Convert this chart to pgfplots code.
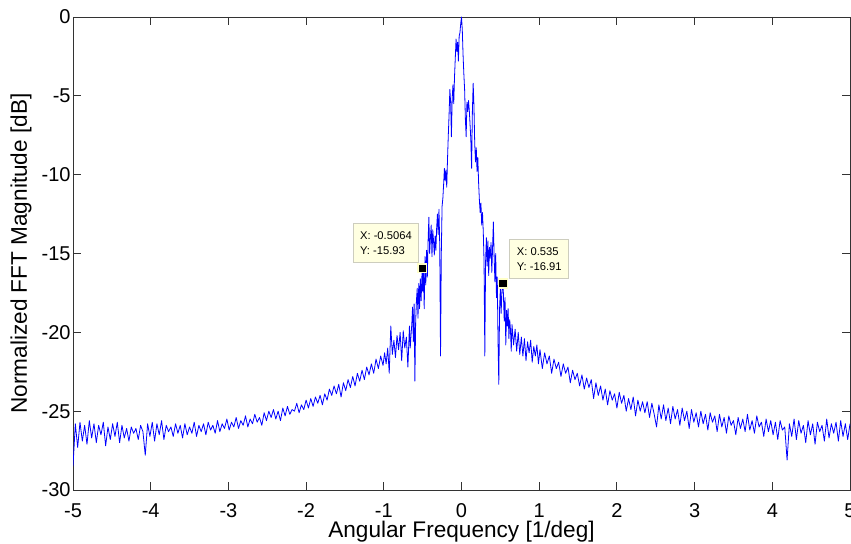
\documentclass[border=0pt]{standalone}
\usepackage{pgfplots}
\pgfplotsset{compat=1.18}
\usepackage{fontspec}
\setmainfont{Liberation Sans}
\definecolor{mblue}{RGB}{0,0,255}
\definecolor{tipfill}{RGB}{255,255,225}
\definecolor{tipedge}{RGB}{205,205,190}
\definecolor{tipmark}{RGB}{255,255,200}
\begin{document}
\begin{tikzpicture}
\begin{axis}[
  scale only axis, width=388.5pt, height=236.5pt,
  xmin=-5, xmax=5, ymin=-30, ymax=0,
  xtick={-5,-4,-3,-2,-1,0,1,2,3,4,5},
  ytick={-30,-25,-20,-15,-10,-5,0},
  tick align=inside, major tick length=4pt,
  axis line style={black!80, line width=0.45pt},
  tick style={black!80, line width=0.45pt},
  /pgf/number format/assume math mode=true,
  ticklabel style={font=\fontsize{10}{11}\selectfont, inner sep=1pt},
  xticklabel style={yshift=-5.5pt},
  label style={font=\fontsize{11.3}{13}\selectfont},
  xlabel={Angular Frequency [1/deg]},
  ylabel={Normalized FFT Magnitude [dB]},
  xlabel style={at={(axis description cs:0.5,-0.0994)}, anchor=base},
  ylabel style={at={(axis description cs:-0.0669,0.5)}, anchor=center},
]
\addplot[mblue, line width=0.4pt, line join=round] coordinates {
(-5.00,-28.5) (-4.97,-25.8) (-4.94,-27.3) (-4.91,-25.7) (-4.88,-26.9) (-4.85,-25.9)
(-4.82,-27.1) (-4.79,-25.6) (-4.76,-26.7) (-4.73,-25.8) (-4.70,-27.0) (-4.67,-25.9)
(-4.64,-26.5) (-4.61,-25.7) (-4.58,-27.2) (-4.55,-26.0) (-4.52,-26.8) (-4.49,-25.8)
(-4.46,-26.6) (-4.43,-25.7) (-4.40,-27.0) (-4.37,-25.9) (-4.34,-26.7) (-4.31,-26.1)
(-4.28,-26.9) (-4.25,-26.0) (-4.22,-26.4) (-4.19,-26.1) (-4.16,-26.8) (-4.13,-25.9)
(-4.10,-26.3) (-4.07,-27.8) (-4.04,-25.8) (-4.01,-26.6) (-3.98,-25.7) (-3.95,-26.9)
(-3.92,-25.8) (-3.89,-26.5) (-3.86,-25.6) (-3.83,-26.8) (-3.80,-25.9) (-3.77,-26.3)
(-3.74,-26.0) (-3.71,-26.6) (-3.68,-25.8) (-3.65,-26.4) (-3.62,-25.9) (-3.59,-26.7)
(-3.56,-25.8) (-3.53,-26.5) (-3.50,-26.0) (-3.47,-26.4) (-3.44,-25.7) (-3.41,-26.6)
(-3.38,-25.9) (-3.35,-26.3) (-3.32,-25.8) (-3.29,-26.5) (-3.26,-25.7) (-3.23,-26.2)
(-3.20,-25.9) (-3.17,-26.4) (-3.14,-25.6) (-3.11,-26.3) (-3.08,-25.8) (-3.05,-26.1)
(-3.02,-25.5) (-2.99,-26.2) (-2.96,-25.7) (-2.93,-26.0) (-2.90,-25.4) (-2.87,-26.1)
(-2.84,-25.6) (-2.81,-25.9) (-2.78,-25.3) (-2.75,-26.0) (-2.72,-25.5) (-2.69,-25.8)
(-2.66,-25.2) (-2.63,-25.7) (-2.60,-25.4) (-2.57,-25.9) (-2.54,-25.1) (-2.51,-25.6)
(-2.48,-25.0) (-2.45,-25.4) (-2.42,-24.9) (-2.39,-25.5) (-2.36,-25.0) (-2.33,-25.6)
(-2.30,-24.8) (-2.27,-25.3) (-2.24,-24.7) (-2.21,-25.2) (-2.18,-24.9) (-2.15,-25.0)
(-2.12,-24.5) (-2.09,-25.1) (-2.06,-24.6) (-2.03,-24.9) (-2.00,-24.3) (-1.97,-24.8)
(-1.94,-24.2) (-1.91,-24.7) (-1.88,-24.1) (-1.85,-24.5) (-1.82,-24.0) (-1.79,-24.6)
(-1.76,-23.9) (-1.73,-24.3) (-1.70,-23.6) (-1.67,-24.0) (-1.64,-23.4) (-1.61,-23.9)
(-1.58,-23.3) (-1.55,-24.1) (-1.52,-23.2) (-1.49,-23.7) (-1.46,-23.0) (-1.43,-23.5)
(-1.40,-22.8) (-1.37,-23.4) (-1.34,-22.6) (-1.31,-23.1) (-1.28,-22.4) (-1.25,-23.0)
(-1.22,-22.2) (-1.19,-22.7) (-1.16,-22.0) (-1.13,-22.6) (-1.10,-21.7) (-1.07,-22.3)
(-1.04,-21.5) (-1.01,-22.1) (-0.99,-21.3) (-0.97,-22.0) (-0.95,-21.0) (-0.93,-22.6)
(-0.91,-19.6) (-0.89,-21.4) (-0.87,-20.5) (-0.85,-21.6) (-0.83,-20.2) (-0.81,-21.1)
(-0.79,-20.0) (-0.77,-21.8) (-0.75,-19.9) (-0.73,-21.0) (-0.71,-20.3) (-0.69,-22.2)
(-0.67,-19.6) (-0.66,-21.0) (-0.65,-20.2) (-0.64,-19.5) (-0.63,-18.4) (-0.62,-20.6)
(-0.61,-18.2) (-0.60,-23.1) (-0.59,-19.3) (-0.58,-18.0) (-0.57,-17.2) (-0.56,-19.1)
(-0.55,-16.9) (-0.54,-18.5) (-0.53,-16.6) (-0.52,-18.0) (-0.5064,-15.93) (-0.50,-17.4)
(-0.49,-16.0) (-0.48,-18.5) (-0.47,-15.2) (-0.46,-17.0) (-0.45,-14.8) (-0.44,-16.5)
(-0.43,-14.2) (-0.42,-12.7) (-0.41,-15.0) (-0.40,-14.0) (-0.39,-13.2) (-0.38,-15.2)
(-0.37,-13.5) (-0.36,-14.2) (-0.35,-15.1) (-0.34,-13.9) (-0.33,-14.8) (-0.32,-13.4)
(-0.31,-12.5) (-0.30,-13.8) (-0.29,-12.2) (-0.28,-14.5) (-0.27,-21.5) (-0.26,-15.0)
(-0.25,-12.0) (-0.24,-11.5) (-0.23,-10.6) (-0.22,-9.6) (-0.21,-10.4) (-0.20,-9.7)
(-0.19,-10.8) (-0.18,-9.0) (-0.17,-7.5) (-0.16,-6.2) (-0.15,-4.6) (-0.14,-5.4)
(-0.13,-7.6) (-0.12,-5.2) (-0.11,-4.3) (-0.10,-5.5) (-0.09,-3.8) (-0.08,-2.6)
(-0.07,-1.4) (-0.06,-2.2) (-0.05,-1.6) (-0.04,-2.8) (-0.03,-1.2) (-0.02,-1.0)
(-0.01,-0.4) (0.00,0.0) (0.01,-0.8) (0.02,-2.4) (0.03,-3.6) (0.04,-4.6)
(0.05,-6.5) (0.06,-7.6) (0.07,-5.4) (0.08,-6.0) (0.09,-5.3) (0.10,-5.9)
(0.11,-6.8) (0.12,-7.8) (0.13,-9.6) (0.14,-6.0) (0.15,-4.2) (0.16,-5.6)
(0.17,-8.0) (0.18,-9.2) (0.19,-8.3) (0.20,-9.8) (0.21,-8.9) (0.22,-10.5)
(0.23,-11.6) (0.24,-12.4) (0.25,-11.8) (0.26,-13.2) (0.27,-12.4) (0.28,-13.6)
(0.29,-15.5) (0.30,-21.5) (0.31,-15.5) (0.32,-14.0) (0.33,-15.8) (0.34,-14.2)
(0.35,-16.4) (0.36,-14.6) (0.37,-15.3) (0.38,-14.3) (0.39,-16.2) (0.40,-14.6)
(0.41,-13.0) (0.42,-15.2) (0.43,-16.8) (0.44,-15.0) (0.45,-17.8) (0.46,-16.5)
(0.47,-20.5) (0.48,-23.3) (0.49,-18.5) (0.50,-17.2) (0.51,-18.8) (0.52,-17.4)
(0.535,-16.91) (0.55,-19.3) (0.56,-17.8) (0.57,-20.8) (0.58,-18.6) (0.59,-19.6)
(0.60,-18.5) (0.61,-20.4) (0.62,-19.2) (0.63,-19.8) (0.64,-21.2) (0.65,-19.5)
(0.67,-20.8) (0.69,-19.8) (0.71,-21.2) (0.73,-20.0) (0.75,-21.4) (0.77,-20.3)
(0.79,-21.5) (0.81,-20.4) (0.83,-21.8) (0.85,-20.6) (0.87,-21.3) (0.89,-20.5)
(0.91,-21.9) (0.93,-20.9) (0.95,-21.5) (0.97,-20.8) (0.99,-22.0) (1.01,-21.1)
(1.04,-22.3) (1.07,-21.3) (1.10,-22.0) (1.13,-21.5) (1.16,-22.6) (1.19,-21.7)
(1.22,-22.3) (1.25,-21.9) (1.28,-22.8) (1.31,-22.0) (1.34,-22.6) (1.37,-22.2)
(1.40,-23.2) (1.43,-22.4) (1.46,-23.0) (1.49,-22.6) (1.52,-23.4) (1.55,-22.7)
(1.58,-23.6) (1.61,-22.9) (1.64,-23.5) (1.67,-23.0) (1.70,-24.2) (1.73,-23.2)
(1.76,-24.0) (1.79,-23.4) (1.82,-24.3) (1.85,-23.6) (1.88,-24.6) (1.91,-23.7)
(1.94,-24.3) (1.97,-23.9) (2.00,-24.8) (2.03,-23.8) (2.06,-24.5) (2.09,-24.0)
(2.12,-25.0) (2.15,-24.2) (2.18,-24.9) (2.21,-24.1) (2.24,-25.3) (2.27,-24.3)
(2.30,-25.0) (2.33,-24.4) (2.36,-25.1) (2.39,-24.4) (2.42,-25.4) (2.45,-24.5)
(2.48,-25.2) (2.51,-26.0) (2.54,-24.6) (2.57,-25.5) (2.60,-24.6) (2.63,-25.6)
(2.66,-24.8) (2.69,-25.8) (2.72,-24.7) (2.75,-25.5) (2.78,-24.9) (2.81,-25.9)
(2.84,-24.8) (2.87,-25.6) (2.90,-25.0) (2.93,-26.1) (2.96,-24.9) (2.99,-25.7)
(3.02,-25.1) (3.05,-26.0) (3.08,-25.0) (3.11,-25.8) (3.14,-25.2) (3.17,-26.2)
(3.20,-25.1) (3.23,-25.7) (3.26,-25.3) (3.29,-26.3) (3.32,-25.2) (3.35,-26.0)
(3.38,-25.4) (3.41,-26.4) (3.44,-25.3) (3.47,-25.9) (3.50,-25.6) (3.53,-26.5)
(3.56,-25.4) (3.59,-26.1) (3.62,-25.5) (3.65,-26.3) (3.68,-25.2) (3.71,-26.2)
(3.74,-25.6) (3.77,-26.4) (3.80,-25.3) (3.83,-26.0) (3.86,-25.7) (3.89,-26.6)
(3.92,-25.5) (3.95,-26.3) (3.98,-25.6) (4.01,-26.5) (4.04,-25.7) (4.07,-26.8)
(4.10,-25.6) (4.13,-26.2) (4.16,-26.0) (4.19,-28.1) (4.22,-25.8) (4.25,-26.6)
(4.28,-25.5) (4.31,-26.8) (4.34,-25.6) (4.37,-26.4) (4.40,-25.9) (4.43,-27.0)
(4.46,-25.6) (4.49,-26.5) (4.52,-25.8) (4.55,-27.1) (4.58,-25.7) (4.61,-26.3)
(4.64,-25.9) (4.67,-26.9) (4.70,-25.5) (4.73,-26.7) (4.76,-25.8) (4.79,-26.4)
(4.82,-25.7) (4.85,-26.9) (4.88,-25.6) (4.91,-26.6) (4.94,-25.8) (4.97,-26.8)
(5.00,-25.8)
};
\addplot[only marks, mark=square*, mark size=2.2pt,
  mark options={fill=black, draw=tipmark, line width=0.8pt}]
  coordinates {(-0.5064,-15.93) (0.535,-16.91)};
\node[fill=tipfill, draw=tipedge, line width=0.4pt, align=left,
  font=\fontsize{5.6}{7.5}\selectfont, inner xsep=3.5pt, inner ysep=4pt,
  anchor=south east, xshift=-1.5pt, yshift=2.8pt]
  at (axis cs:-0.5064,-15.93) {X: -0.5064\\Y: -15.93};
\node[fill=tipfill, draw=tipedge, line width=0.4pt, align=left,
  font=\fontsize{5.6}{7.5}\selectfont, inner xsep=3.5pt, inner ysep=4pt,
  anchor=south west, xshift=3.2pt, yshift=2.2pt]
  at (axis cs:0.535,-16.91) {X: 0.535\\Y: -16.91};
\end{axis}
\pgfresetboundingbox
\path[use as bounding box] ([xshift=-36.5pt,yshift=-27pt]current axis.south west) rectangle ([xshift=0.5pt,yshift=8.5pt]current axis.north east);
\end{tikzpicture}
\end{document}
